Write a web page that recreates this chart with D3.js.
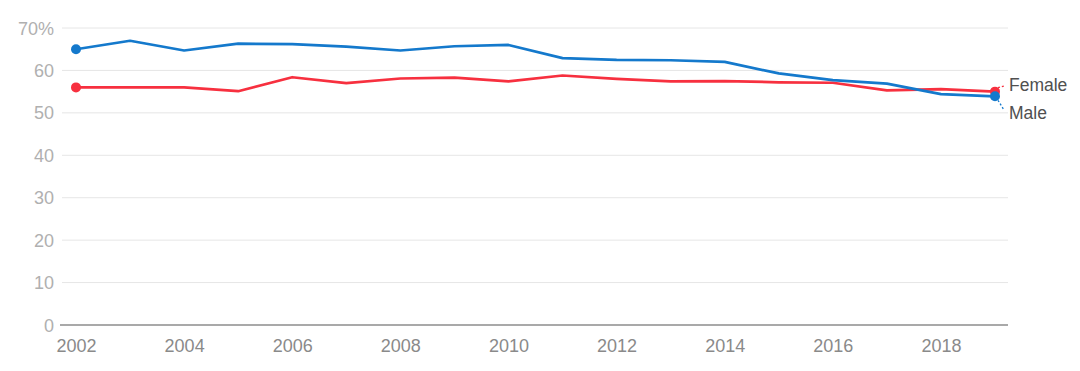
<!DOCTYPE html>
<html>
<head>
<meta charset="utf-8">
<script src="https://cdn.jsdelivr.net/npm/d3@7"></script>
<style>
  body { margin: 0; background: #fff; }
  svg { display: block; font-family: "Liberation Sans", Arial, sans-serif; }
</style>
</head>
<body>
<svg id="chart"></svg>
<script>
var years = [2002, 2003, 2004, 2005, 2006, 2007, 2008, 2009, 2010, 2011, 2012, 2013, 2014, 2015, 2016, 2017, 2018, 2019];
var male = [65.0, 67.0, 64.7, 66.3, 66.2, 65.6, 64.7, 65.7, 66.0, 62.9, 62.5, 62.4, 62.0, 59.3, 57.7, 56.9, 54.4, 53.9];
var female = [56.0, 56.0, 56.0, 55.1, 58.4, 57.0, 58.1, 58.3, 57.4, 58.8, 58.0, 57.4, 57.5, 57.2, 57.1, 55.3, 55.6, 55.0];
var yTicks = [0, 10, 20, 30, 40, 50, 60, 70];
var xTicks = [2002, 2004, 2006, 2008, 2010, 2012, 2014, 2016, 2018];

var width = 1080;
var height = 371;

var svg = d3.select('#chart')
  .attr('width', width)
  .attr('height', height);

var x = d3.scaleLinear().domain([2002, 2019]).range([76, 995]);
var y = d3.scaleLinear().domain([0, 70]).range([325, 28]);

// gridlines
svg.append('g')
  .selectAll('line')
  .data(yTicks.slice(1))
  .enter()
    .append('line')
    .attr('x1', 62)
    .attr('x2', 1008)
    .attr('y1', function (d) { return y(d); })
    .attr('y2', function (d) { return y(d); })
    .attr('stroke', '#e6e6e6')
    .attr('stroke-width', 1);

// y labels
svg.append('g')
  .selectAll('text')
  .data(yTicks)
  .enter()
    .append('text')
    .attr('x', 54)
    .attr('y', function (d) { return y(d) + 6.5; })
    .attr('text-anchor', 'end')
    .attr('font-size', 18)
    .attr('fill', '#b0b0b0')
    .text(function (d) { return d === 70 ? '70%' : d; });

// zero axis
svg.append('line')
  .attr('x1', 60)
  .attr('x2', 1008)
  .attr('y1', y(0))
  .attr('y2', y(0))
  .attr('stroke', '#555')
  .attr('stroke-width', 1.2);

// x axis labels
var xAxis = d3.axisBottom(x)
  .tickValues(xTicks)
  .tickFormat(d3.format('d'))
  .tickSize(0)
  .tickPadding(14);

var gx = svg.append('g')
  .attr('transform', 'translate(0,' + y(0) + ')')
  .call(xAxis);
gx.select('.domain').remove();
gx.selectAll('text')
  .attr('font-size', 18)
  .attr('font-family', '"Liberation Sans", Arial, sans-serif')
  .attr('fill', '#8a8a8a');

var series = [
  { name: 'Female', values: female, color: '#f7303f', dy: -1, labelY: 84 },
  { name: 'Male', values: male, color: '#1479cc', dy: 1, labelY: 112 }
];

var line = d3.line()
  .x(function (d, i) { return x(years[i]); })
  .y(function (d) { return y(d); });

series.forEach(function (s) {
  svg.append('path')
    .datum(s.values)
    .attr('fill', 'none')
    .attr('stroke', s.color)
    .attr('stroke-width', 2.7)
    .attr('stroke-linejoin', 'round')
    .attr('d', line);

  var ends = [0, s.values.length - 1];
  svg.selectAll(null)
    .data(ends)
    .enter()
      .append('circle')
      .attr('cx', function (i) { return x(years[i]); })
      .attr('cy', function (i) { return y(s.values[i]); })
      .attr('r', 5)
      .attr('fill', s.color);

  var last = s.values.length - 1;
  var lx = x(years[last]);
  var ly = y(s.values[last]);

  // dotted leader from end dot to label
  svg.append('line')
    .attr('x1', lx + 3)
    .attr('y1', ly + s.dy * 4)
    .attr('x2', lx + 9)
    .attr('y2', s.labelY + s.dy * -2)
    .attr('stroke', s.color)
    .attr('stroke-width', 1.3)
    .attr('stroke-dasharray', '2,2');

  svg.append('text')
    .attr('x', 1009)
    .attr('y', s.labelY + 6.5)
    .attr('font-size', 17.5)
    .attr('fill', '#505050')
    .text(s.name);
});
</script>
</body>
</html>
